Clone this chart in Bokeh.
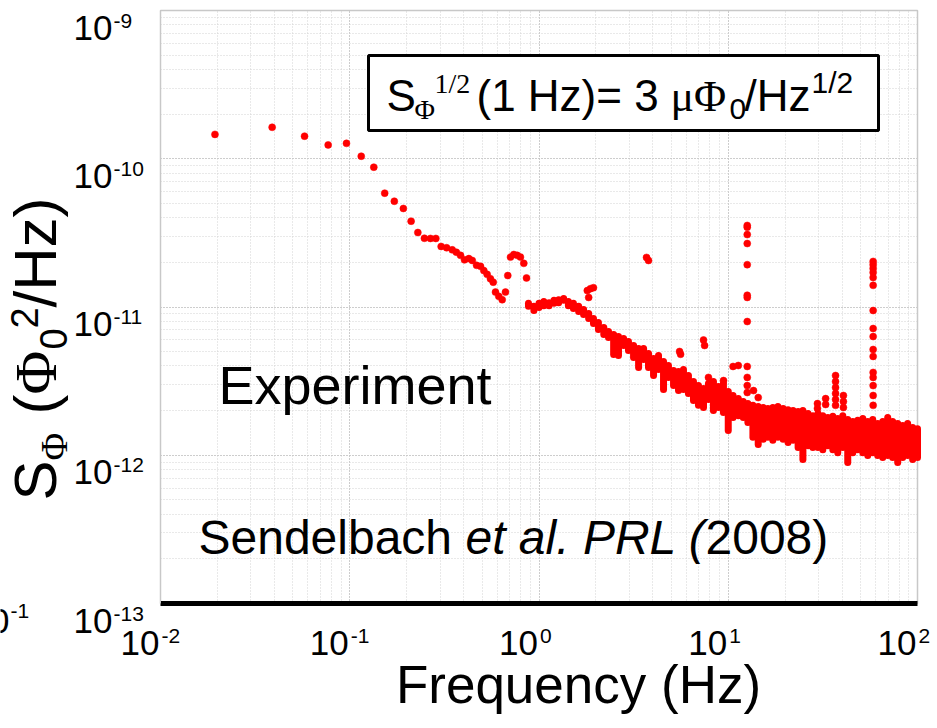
import math
from bokeh.plotting import figure
from bokeh.models import (ColumnDataSource, LabelSet, BoxAnnotation, Range1d,
                          CustomJSTickFormatter, Grid)
from bokeh.core.properties import value
from bokeh.embed import file_html
from bokeh.resources import INLINE

# ---------------- data ----------------
# sparse low-frequency points
low_f = [0.0194, 0.0389, 0.0577, 0.0769, 0.0961, 0.115, 0.134, 0.153, 0.172, 0.192,
         0.211, 0.229, 0.248, 0.267, 0.285, 0.304, 0.325, 0.348, 0.366, 0.385,
         0.404, 0.426, 0.444, 0.468, 0.491, 0.511, 0.532, 0.554, 0.573, 0.589,
         0.613, 0.639, 0.665, 0.684, 0.707, 0.736, 0.767, 0.798, 0.831, 0.859]
low_s = [1.46e-10, 1.63e-10, 1.42e-10, 1.24e-10, 1.27e-10, 1.04e-10, 8.77e-11, 5.86e-11, 5.17e-11, 4.62e-11,
         3.79e-11, 3.18e-11, 2.91e-11, 2.90e-11, 2.90e-11, 2.56e-11, 2.51e-11, 2.43e-11, 2.34e-11, 2.23e-11,
         2.08e-11, 2.12e-11, 2.06e-11, 1.91e-11, 1.88e-11, 1.76e-11, 1.66e-11, 1.55e-11, 1.47e-11, 1.26e-11,
         1.18e-11, 1.12e-11, 1.26e-11, 1.63e-11, 2.17e-11, 2.26e-11, 2.23e-11, 2.17e-11, 1.97e-11, 1.57e-11]

# dense region: spread of the points (upper / lower envelope) at each frequency
band_f = [0.88, 0.94, 1.0, 1.06, 1.13, 1.2, 1.27, 1.35, 1.43, 1.52,
          1.62, 1.72, 1.83, 1.94, 2.06, 2.2, 2.33, 2.48, 2.63, 2.8,
          2.97, 3.16, 3.36, 3.57, 3.79, 4.03, 4.28, 4.55, 4.83, 5.14,
          5.46, 5.8, 6.16, 6.55, 6.96, 7.4, 7.86, 8.35, 8.87, 9.43,
          10.0, 10.6, 11.3, 12.0, 12.7, 13.5, 14.4, 15.3, 16.2, 17.2,
          18.3, 19.5, 20.7, 22.0, 23.4, 24.8, 26.4, 28.0, 29.8, 31.6,
          33.6, 35.7, 37.9, 40.3, 42.8, 45.5, 48.3, 51.4, 54.6, 58.0,
          61.6, 65.5, 69.6, 73.9, 78.6, 83.5, 88.7, 94.3, 100.0]
band_hi = [1.06e-11, 1.01e-11, 1.06e-11, 1.09e-11, 1.07e-11, 1.11e-11, 1.12e-11, 1.14e-11, 1.09e-11, 1.06e-11,
           1.01e-11, 9.62e-12, 9.04e-12, 8.36e-12, 7.86e-12, 7.27e-12, 6.84e-12, 6.52e-12, 6.32e-12, 6.13e-12,
           5.85e-12, 5.50e-12, 5.25e-12, 5.25e-12, 4.86e-12, 4.49e-12, 4.71e-12, 4.29e-12, 4.03e-12, 3.73e-12,
           3.67e-12, 3.79e-12, 3.45e-12, 3.14e-12, 2.95e-12, 2.82e-12, 3.05e-12, 3.14e-12, 2.91e-12, 3.05e-12,
           2.69e-12, 2.53e-12, 2.41e-12, 2.30e-12, 2.23e-12, 2.17e-12, 2.13e-12, 2.10e-12, 2.07e-12, 2.10e-12,
           2.13e-12, 2.07e-12, 2.03e-12, 2.00e-12, 1.97e-12, 2.00e-12, 1.91e-12, 1.85e-12, 1.91e-12, 1.85e-12,
           1.80e-12, 1.83e-12, 1.77e-12, 1.85e-12, 1.74e-12, 1.69e-12, 1.72e-12, 1.77e-12, 1.69e-12, 1.74e-12,
           1.64e-12, 1.69e-12, 1.80e-12, 1.69e-12, 1.64e-12, 1.59e-12, 1.64e-12, 1.54e-12, 1.51e-12]
band_lo = [1.01e-11, 9.47e-12, 9.92e-12, 1.02e-11, 1.02e-11, 1.06e-11, 1.07e-11, 1.11e-11, 1.02e-11, 9.77e-12,
           9.32e-12, 8.90e-12, 8.36e-12, 7.74e-12, 7.05e-12, 6.52e-12, 6.23e-12, 4.78e-12, 4.71e-12, 5.50e-12,
           5.09e-12, 4.56e-12, 3.91e-12, 4.42e-12, 3.91e-12, 3.45e-12, 3.79e-12, 2.78e-12, 3.35e-12, 2.95e-12,
           2.73e-12, 2.78e-12, 2.61e-12, 2.34e-12, 2.17e-12, 2.10e-12, 2.38e-12, 2.00e-12, 2.10e-12, 1.94e-12,
           1.47e-12, 1.80e-12, 1.85e-12, 1.80e-12, 1.66e-12, 1.32e-12, 1.18e-12, 1.28e-12, 1.32e-12, 1.26e-12,
           1.32e-12, 1.28e-12, 1.22e-12, 1.26e-12, 1.13e-12, 9.36e-13, 1.16e-12, 1.13e-12, 1.13e-12, 1.09e-12,
           1.16e-12, 1.09e-12, 1.04e-12, 1.13e-12, 8.94e-13, 1.04e-12, 1.09e-12, 1.04e-12, 9.96e-13, 1.04e-12,
           9.96e-13, 9.66e-13, 9.96e-13, 9.66e-13, 8.94e-13, 9.66e-13, 9.96e-13, 9.36e-13, 9.66e-13]

# isolated points above the band
out_f = [1.80, 1.83, 1.87, 1.94, 3.70, 3.79, 5.53, 5.60, 7.40, 7.50,
         7.86, 8.26, 9.44, 10.6, 11.3, 13.6, 14.4, 29.6, 29.6, 32.7,
         32.7, 36.9, 36.9, 36.9, 36.9, 36.9, 36.9, 40.6, 40.6, 40.6]
out_s = [1.29e-11, 1.16e-11, 1.33e-11, 1.35e-11, 2.16e-11, 2.06e-11, 5.01e-12, 4.80e-12, 5.99e-12, 5.50e-12,
         3.35e-12, 3.05e-12, 3.19e-12, 3.97e-12, 4.03e-12, 2.73e-12, 2.45e-12, 2.23e-12, 2.07e-12, 2.41e-12,
         2.20e-12, 3.45e-12, 3.14e-12, 2.86e-12, 2.61e-12, 2.38e-12, 2.17e-12, 2.53e-12, 2.30e-12, 2.10e-12]

# spectral lines
spike1_f = 12.6
spike1_s = [3.55e-11, 3.45e-11, 3.08e-11, 2.68e-11, 1.93e-11, 1.20e-11, 1.16e-11, 7.98e-12,
            3.97e-12, 3.35e-12, 2.95e-12, 2.65e-12]
spike2_f = 58.3
spike2_s = [2.03e-11, 1.93e-11, 1.82e-11, 1.71e-11, 1.58e-11, 1.40e-11, 9.47e-12, 7.16e-12,
            6.32e-12, 5.17e-12, 4.64e-12, 3.62e-12, 3.35e-12, 2.95e-12, 2.53e-12, 2.17e-12]

# axes limits and ticks
x_lim = (0.01, 100)
y_lim = (1e-13, 1e-9)
xtick_vals = [0.01, 0.1, 1, 10, 100]
xtick_exp = ["-2", "-1", "0", "1", "2"]
ytick_vals = [1e-13, 1e-12, 1e-11, 1e-10, 1e-9]
ytick_exp = ["-13", "-12", "-11", "-10", "-9"]

RED = "#ff0000"
SANS = "Liberation Sans"
SERIF = "Liberation Serif"

# ---------------- layout: plot box inside a full-canvas frame ----------------
W, H = 937, 728
BOX_L, BOX_R, BOX_T, BOX_B = 160, 917, 10, 603     # plot box in canvas pixels
dec_x = (BOX_R - BOX_L) / 4.0
dec_y = (BOX_B - BOX_T) / 4.0
x_start = 10 ** (-2 - BOX_L / dec_x)
x_end = 10 ** (2 + (W - BOX_R) / dec_x)
y_start = 10 ** (-13 - (H - BOX_B) / dec_y)
y_end = 10 ** (-9 + BOX_T / dec_y)

p = figure(x_axis_type="log", y_axis_type="log",
           x_range=Range1d(x_start, x_end), y_range=Range1d(y_start, y_end),
           frame_width=W, frame_height=H,
           min_border_left=0, min_border_right=0, min_border_top=0, min_border_bottom=0,
           output_backend="svg", toolbar_location=None,
           background_fill_color="white", border_fill_color="white")
p.outline_line_color = None

blank = CustomJSTickFormatter(code="return ''")
xa, ya = p.xaxis[0], p.yaxis[0]
xa.fixed_location = y_lim[0]
ya.fixed_location = x_lim[0]
xa.bounds = x_lim
ya.bounds = y_lim
for ax in (xa, ya):
    ax.formatter = blank
    ax.major_tick_line_color = None
    ax.minor_tick_line_color = None
    ax.major_label_standoff = 0
xa.axis_line_color = "black"
xa.axis_line_width = 5
ya.axis_line_color = "#c8c8c8"
ya.axis_line_width = 1

has_cross = "cross_bounds" in Grid.properties()
for g, b, cb in ((p.xgrid[0], x_lim, y_lim), (p.ygrid[0], y_lim, x_lim)):
    g.bounds = b
    if has_cross:
        g.cross_bounds = cb
    g.grid_line_color = "#bdbdbd"
    g.grid_line_dash = "1 2"
    g.grid_line_width = 1
    g.minor_grid_line_color = "#d2d2d2"
    g.minor_grid_line_dash = "1 2"
    g.minor_grid_line_width = 1

if not has_cross:
    for l, r, t, b in ((0, BOX_L, H, 0), (BOX_R, W, H, 0), (0, W, H - BOX_B, 0), (0, W, H, H - BOX_T)):
        p.add_layout(BoxAnnotation(left=l, right=r, top=t, bottom=b, left_units="screen",
                                   right_units="screen", top_units="screen", bottom_units="screen",
                                   fill_color="white", fill_alpha=1, line_color=None, level="underlay"))

# plot-box border (light grey)
p.add_layout(BoxAnnotation(left=x_lim[0], right=x_lim[1], bottom=y_lim[0], top=y_lim[1],
                           fill_color=None, line_color="#c8c8c8", line_alpha=1, line_width=1.5,
                           level="underlay"))

# ---------------- data marks ----------------
band_src = ColumnDataSource(dict(f=band_f, hi=band_hi, lo=band_lo))
p.segment(x0="f", y0="lo", x1="f", y1="hi", source=band_src,
          line_color=RED, line_width=7, line_cap="round")
for xs, ys in ((low_f, low_s), (out_f, out_s),
               ([spike1_f] * len(spike1_s), spike1_s), ([spike2_f] * len(spike2_s), spike2_s)):
    p.scatter(xs, ys, size=7, marker="circle", fill_color=RED, line_color=RED, line_width=0.5)

# ---------------- tick labels ----------------
xsrc = ColumnDataSource(dict(v=xtick_vals, base=["10"] * len(xtick_vals), e=xtick_exp))
ysrc = ColumnDataSource(dict(v=ytick_vals, base=["10"] * len(ytick_vals), e=ytick_exp))
p.add_layout(LabelSet(x="v", y=74, y_units="screen", text="base", source=xsrc,
                      text_align="right", text_baseline="alphabetic", x_offset=-1,
                      text_font=value(SANS), text_font_size="35px", text_color="black"))
p.add_layout(LabelSet(x="v", y=86, y_units="screen", text="e", source=xsrc,
                      text_align="left", text_baseline="alphabetic", x_offset=1,
                      text_font=value(SANS), text_font_size="21px", text_color="black"))
p.add_layout(LabelSet(x=112, x_units="screen", y="v", text="base", source=ysrc,
                      text_align="right", text_baseline="alphabetic", y_offset=-29,
                      text_font=value(SANS), text_font_size="35px", text_color="black"))
p.add_layout(LabelSet(x=113, x_units="screen", y="v", text="e", source=ysrc,
                      text_align="left", text_baseline="alphabetic", y_offset=-17,
                      text_font=value(SANS), text_font_size="21px", text_color="black"))


def lab(text, x, y, size, font=SANS, style="normal", align="left", angle=0.0):
    src = ColumnDataSource(dict(x=[x], y=[y], t=[text]))
    p.add_layout(LabelSet(x="x", y="y", x_units="screen", y_units="screen", text="t", source=src,
                          text_font=value(font), text_font_size=value(f"{size}px"),
                          text_font_style=value(style), text_align=value(align),
                          text_baseline=value("alphabetic"), text_color="black",
                          angle=angle))


# fragment of a neighbouring label at the far left edge
lab("10", 9, 96, 35, align="right")
lab("-1", 10, 111, 21)

# axis titles
lab("Frequency (Hz)", 578, 26, 53, align="center")
VERT = math.pi / 2
lab("S", 55, 228, 60, angle=VERT)
lab("Φ", 66, 268, 38, font=SERIF, angle=VERT)
lab("(", 55, 314, 60, angle=VERT)
lab("Φ", 55, 334, 60, font=SERIF, angle=VERT)
lab("0", 66, 379, 38, angle=VERT)
lab("2", 37, 400, 38, angle=VERT)
lab("/Hz)", 55, 421, 60, angle=VERT)

# boxed annotation
p.add_layout(BoxAnnotation(left=368, right=878, top=673, bottom=598,
                           left_units="screen", right_units="screen",
                           top_units="screen", bottom_units="screen",
                           fill_color="white", fill_alpha=1.0,
                           line_color="black", line_alpha=1.0, line_width=3))
lab("S", 386, 618, 44)
lab("Φ", 414, 610, 28, font=SERIF)
lab("1/2", 434, 636, 28, font=SERIF)
lab("(1 Hz)= 3", 476, 618, 44)
lab("μΦ", 670, 618, 44, font=SERIF)
lab("0", 729, 610, 30)
lab("/Hz", 744, 618, 44)
lab("1/2", 811, 636, 30)

# in-plot texts
lab("Experiment", 218, 325, 54)
lab("Sendelbach", 198, 175, 48)
lab("et al. PRL (", 465, 175, 48, style="italic")
lab("2008)", 705, 175, 48)

open("out.html", "w").write(file_html(p, INLINE))
